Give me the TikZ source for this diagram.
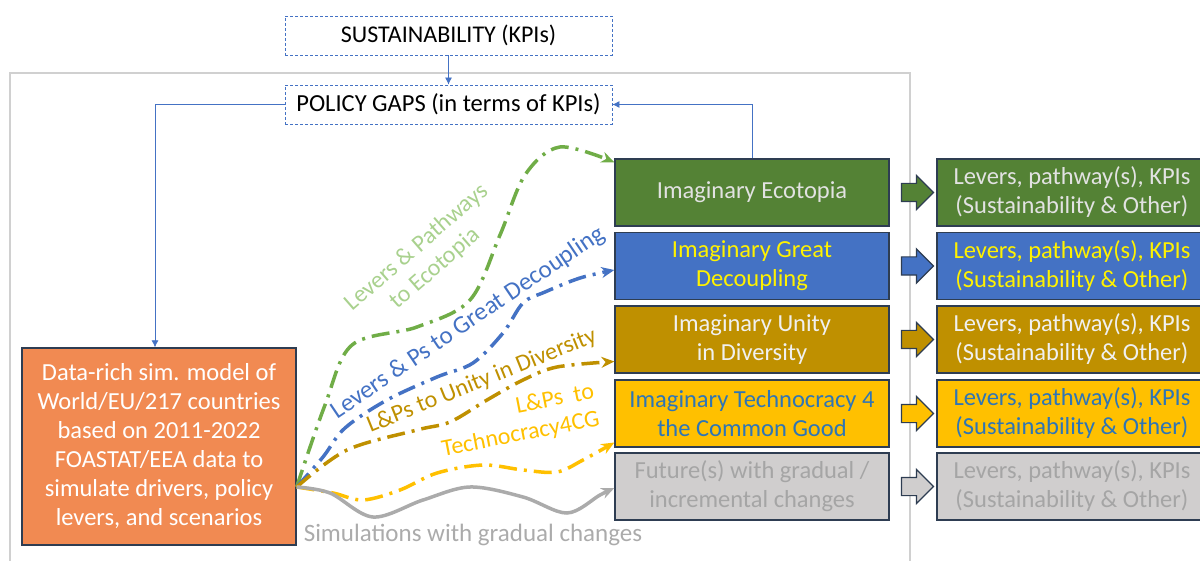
\documentclass[tikz,border=0pt]{standalone}
\usepackage{fontspec}
\setmainfont{Carlito}
\usetikzlibrary{arrows.meta, calc, shapes.arrows}
\definecolor{ecogreen}{HTML}{548235}
\definecolor{ecoline}{HTML}{70AD47}
\definecolor{ecolabel}{HTML}{A9D18E}
\definecolor{mblue}{HTML}{4472C4}
\definecolor{gold}{HTML}{BF9000}
\definecolor{amber}{HTML}{FFC000}
\definecolor{techtext}{HTML}{2E75B6}
\definecolor{futgray}{HTML}{D0CECE}
\definecolor{futtext}{HTML}{A5A5A5}
\definecolor{simgray}{HTML}{ABABAB}
\definecolor{navy}{HTML}{2E3D52}
\definecolor{modelorange}{HTML}{F18A52}
\definecolor{framegray}{HTML}{D0D0D0}
\definecolor{ecotext}{HTML}{E2E2E2}
\definecolor{unitext}{HTML}{F0F0F0}

\tikzset{
  dashbox/.style={draw=mblue, fill=white, dash pattern=on 3pt off 2pt, line width=0.8pt,
    minimum width=327pt, minimum height=39pt, inner sep=0pt, font=\fontsize{24}{28}\selectfont},
  rowbox/.style={draw=navy, line width=1.3pt, minimum width=274pt, minimum height=67pt,
    align=center, inner sep=2pt, font=\fontsize{24.5}{29}\selectfont},
  outbox/.style={rowbox, minimum width=270pt},
  blockarrow/.style={single arrow, draw=navy, line width=1.2pt, minimum height=32pt,
    single arrow head extend=8pt, text height=17pt, text depth=0pt, inner sep=0pt},
  link/.style={mblue, line width=0.8pt, -{Latex[length=7pt, width=7pt]}},
  simline/.style={line width=3.5pt, dash pattern=on 18pt off 7pt on 3pt off 7pt,
    -{Stealth[length=13pt, width=11pt]}},
  pathlabel/.style={font=\fontsize{24}{28}\selectfont, align=center, inner sep=0pt}
}

\begin{document}
\begin{tikzpicture}[x=1pt, y=-1pt]
\useasboundingbox (0,0) rectangle (1200,561);
\clip (0,0) rectangle (1200,561);

% Frame
\draw[framegray, line width=2.5pt] (10,565) -- (10,73) -- (910,73) -- (910,565);

% KPI boxes
\node[dashbox] (sus) at (448.5,35.5) {SUSTAINABILITY (KPIs)};
\node[dashbox, font=\fontsize{24.5}{28}\selectfont] (gaps) at (448.5,104.5) {POLICY GAPS (in terms of KPIs)};

% Simulation model
\node[rowbox, fill=modelorange, text=white, minimum height=197pt] (model) at (159,446.5)
  {Data-rich sim. model of\\World/EU/217 countries\\based on 2011-2022\\FOASTAT/EEA data to\\simulate drivers, policy\\levers, and scenarios};

% Imaginaries
\node[rowbox, fill=ecogreen, text=ecotext] (eco) at (752,192.5) {Imaginary Ecotopia};
\node[rowbox, fill=mblue, text=yellow] (dec) at (752,266) {Imaginary Great\\Decoupling};
\node[rowbox, fill=gold, text=unitext] (uni) at (752,339.5) {Imaginary Unity\\in Diversity};
\node[rowbox, fill=amber, text=techtext] (tec) at (752,413.5) {Imaginary Technocracy 4\\the Common Good};
\node[rowbox, fill=futgray, text=futtext] (fut) at (752,486.5) {Future(s) with gradual /\\incremental changes};

% Outcomes
\node[outbox, fill=ecogreen, text=ecotext] (ecoR) at (1072,192.5) {Levers, pathway(s), KPIs\\(Sustainability \& Other)};
\node[outbox, fill=mblue, text=yellow] (decR) at (1072,266) {Levers, pathway(s), KPIs\\(Sustainability \& Other)};
\node[outbox, fill=gold, text=unitext] (uniR) at (1072,339.5) {Levers, pathway(s), KPIs\\(Sustainability \& Other)};
\node[outbox, fill=amber, text=techtext] (tecR) at (1072,413.5) {Levers, pathway(s), KPIs\\(Sustainability \& Other)};
\node[outbox, fill=futgray, text=futtext] (futR) at (1072,486.5) {Levers, pathway(s), KPIs\\(Sustainability \& Other)};

% Block arrows
\node[blockarrow, fill=ecogreen] (a1) at ($(eco.east)!0.5!(ecoR.west)$) {};
\node[blockarrow, fill=mblue] (a2) at ($(dec.east)!0.5!(decR.west)$) {};
\node[blockarrow, fill=gold] (a3) at ($(uni.east)!0.5!(uniR.west)$) {};
\node[blockarrow, fill=amber] (a4) at ($(tec.east)!0.5!(tecR.west)$) {};
\node[blockarrow, fill=futgray] (a5) at ($(fut.east)!0.5!(futR.west)$) {};

% Feedback links
\draw[link] (sus) -- (gaps);
\draw[link] (gaps.west) -| ([xshift=-4pt]model.north);
\draw[link] (eco.north) |- (gaps.east);

% Pathways
\coordinate (src) at ([yshift=-40.5pt]model.east);
\coordinate (ecoin) at ([yshift=-4pt]eco.north west);
\coordinate (decin) at ([yshift=-4pt]dec.west);
\coordinate (uniin) at ([yshift=-22pt]uni.west);
\coordinate (tecin) at ([yshift=-29pt]tec.west);
\coordinate (futin) at ([yshift=-1.5pt]fut.west);

\draw[simline, ecoline] plot[smooth, tension=0.55] coordinates
  {(src) (325,405) (352,345) (417,327) (470,300) (500,235) (525,175) (560,147) (ecoin)};
\draw[simline, mblue] plot[smooth, tension=0.55] coordinates
  {(src) (323,457) (345,428) (387,400) (437,377) (473,363) (503,333) (523,303) (545,292) (580,278) (decin)};
\draw[simline, gold] plot[smooth, tension=0.55] coordinates
  {(src) (347,450) (417,430) (450,422) (487,400) (523,380) (557,367) (uniin)};
\draw[simline, amber] plot[smooth, tension=0.55] coordinates
  {(src) (333,493) (363,500) (400,490) (437,473) (483,465) (523,470) (557,472) (583,460) (tecin)};
\draw[simgray, line width=3.5pt, -{Stealth[length=13pt, width=11pt]}] plot[smooth, tension=0.55] coordinates
  {(src) (330,493) (373,517) (423,500) (470,487) (523,497) (567,513) (600,495) (futin)};

% Pathway labels
\node[pathlabel, text=ecolabel, rotate=41] (ecolbl) at (426,258) {Levers \& Pathways\\to Ecotopia};
\node[pathlabel, text=mblue, rotate=34, font=\fontsize{25}{28}\selectfont] (declbl) at (468,323) {Levers \& Ps to Great Decoupling};
\node[pathlabel, text=gold, rotate=22] (unilbl) at (482,381) {L\&Ps to Unity in Diversity};
\node[pathlabel, text=amber, rotate=11, align=right] (teclbl) at (518,421) {L\&Ps\ \ to\\Technocracy4CG};
\node[pathlabel, text=simgray, font=\fontsize{25}{28}\selectfont] (simlbl) at (473,535) {Simulations with gradual changes};

\end{tikzpicture}
\end{document}
